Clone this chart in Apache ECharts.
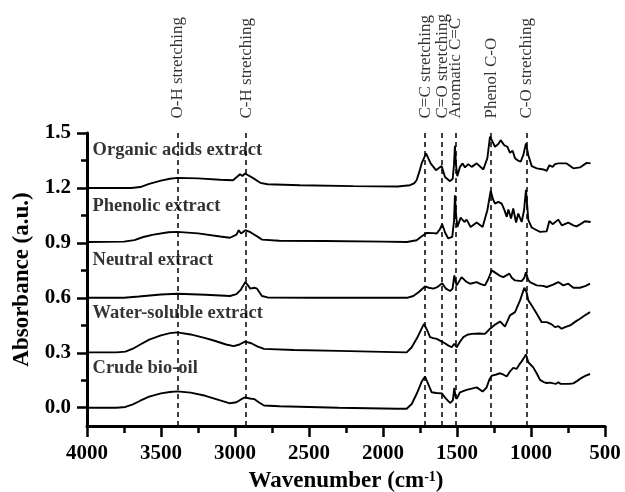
<!DOCTYPE html>
<html><head><meta charset="utf-8">
<script src="https://cdn.jsdelivr.net/npm/echarts@6/dist/echarts.min.js"></script>
<style>html,body{margin:0;padding:0;background:#fff}#c{width:625px;height:492px}</style>
</head><body><div id="c"></div>
<script>
// ---- data ----
const seriesNames = ['Organic acids extract', 'Phenolic extract', 'Neutral extract', 'Water-soluble extract', 'Crude bio-oil'];

const organicWn = [4000,3700,3640,3580,3500,3440,3390,3250,3100,3013,2966,2950,2932,2880,2829,2780,2561,2200,1900,1818,1790,1773,1750,1739,1709,1678,1642,1620,1604,1581,1547,1529,1520,1514,1506,1498,1480,1462,1446,1424,1401,1367,1322,1295,1277,1265,1243,1221,1205,1182,1160,1142,1124,1108,1093,1070,1052,1034,1018,995,961,916,894,876,854,838,816,759,714,669,624,597];
const organicAbs = [1.2,1.2,1.205,1.222,1.24,1.25,1.255,1.252,1.245,1.242,1.275,1.265,1.279,1.255,1.228,1.22,1.215,1.21,1.208,1.215,1.225,1.242,1.3,1.334,1.389,1.334,1.297,1.31,1.319,1.26,1.237,1.25,1.33,1.43,1.32,1.264,1.315,1.334,1.312,1.33,1.315,1.334,1.301,1.362,1.48,1.461,1.425,1.44,1.461,1.434,1.425,1.392,1.403,1.362,1.352,1.343,1.379,1.443,1.379,1.319,1.307,1.301,1.293,1.324,1.315,1.33,1.334,1.334,1.307,1.312,1.337,1.334];

const phenolicWn = [4000,3750,3680,3620,3550,3450,3390,3250,3100,3034,2990,2975,2959,2930,2900,2874,2840,2818,2700,2400,2000,1838,1773,1740,1705,1660,1637,1615,1600,1580,1559,1532,1520,1514,1506,1498,1475,1450,1435,1408,1367,1327,1295,1272,1258,1243,1221,1198,1180,1164,1153,1135,1120,1101,1086,1063,1047,1034,1018,995,961,939,894,876,854,816,792,748,714,692,660,636,597];
const phenolicAbs = [0.905,0.907,0.915,0.932,0.945,0.958,0.96,0.952,0.935,0.928,0.945,0.969,0.951,0.969,0.96,0.947,0.93,0.918,0.912,0.91,0.907,0.905,0.914,0.935,0.954,0.953,0.951,0.975,1.002,0.955,0.924,0.933,1.02,1.16,1.05,0.987,1.038,1.014,1.027,0.987,1.011,0.987,1.078,1.185,1.14,1.114,1.124,1.114,1.08,1.042,1.082,1.033,1.088,1.011,1.06,1.014,1.078,1.19,1.024,0.984,0.969,0.96,0.963,1.02,1.002,1.027,0.996,1.011,0.996,0.99,1.005,1.018,1.014];

const neutralWn = [4000,3750,3650,3500,3390,3200,3034,2990,2960,2930,2910,2897,2870,2851,2818,2780,2500,2000,1838,1795,1760,1716,1690,1660,1630,1600,1575,1547,1530,1518,1510,1502,1469,1440,1412,1367,1340,1311,1290,1265,1232,1210,1187,1146,1130,1108,1063,1045,1034,1020,1007,961,920,894,850,816,782,748,714,669,630,601];
const neutralAbs = [0.6,0.6,0.607,0.618,0.622,0.617,0.61,0.62,0.645,0.686,0.665,0.65,0.655,0.65,0.61,0.602,0.6,0.6,0.6,0.61,0.63,0.662,0.655,0.65,0.66,0.68,0.65,0.637,0.65,0.722,0.69,0.668,0.713,0.69,0.677,0.686,0.675,0.668,0.7,0.75,0.732,0.72,0.713,0.732,0.71,0.695,0.691,0.71,0.74,0.7,0.686,0.668,0.665,0.659,0.672,0.686,0.668,0.677,0.655,0.655,0.665,0.677];

const waterWn = [4000,3800,3740,3690,3640,3580,3500,3440,3390,3300,3200,3144,3060,3009,2970,2932,2890,2850,2804,2600,2300,2000,1840,1806,1770,1740,1723,1700,1682,1660,1637,1593,1560,1536,1518,1502,1480,1457,1430,1401,1350,1311,1277,1240,1209,1176,1142,1108,1074,1045,1030,1018,995,961,928,894,883,860,838,815,804,793,770,736,700,669,635,601];
const waterAbs = [0.302,0.302,0.306,0.322,0.345,0.372,0.395,0.407,0.411,0.4,0.38,0.367,0.345,0.336,0.345,0.361,0.352,0.335,0.321,0.315,0.31,0.305,0.302,0.33,0.38,0.43,0.458,0.42,0.385,0.38,0.376,0.357,0.34,0.33,0.349,0.33,0.36,0.385,0.398,0.403,0.405,0.403,0.431,0.455,0.471,0.443,0.504,0.522,0.586,0.655,0.63,0.586,0.558,0.513,0.467,0.467,0.476,0.455,0.44,0.445,0.449,0.431,0.44,0.449,0.47,0.486,0.505,0.522];

const crudeWn = [4000,3800,3740,3690,3640,3580,3500,3440,3390,3300,3200,3100,3034,2990,2960,2932,2900,2870,2840,2804,2700,2500,2300,2100,1900,1840,1806,1770,1740,1716,1695,1671,1640,1603,1575,1547,1528,1518,1510,1502,1480,1435,1367,1327,1300,1282,1265,1240,1209,1185,1164,1140,1120,1097,1080,1063,1045,1034,1018,985,960,939,915,894,870,849,830,816,800,770,740,714,690,658,630,601];
const crudeAbs = [0.0,0.0,0.004,0.018,0.038,0.06,0.078,0.086,0.089,0.082,0.065,0.04,0.024,0.03,0.045,0.056,0.05,0.047,0.03,0.012,0.008,0.004,0.0,-0.003,-0.006,-0.006,0.02,0.08,0.14,0.17,0.13,0.084,0.08,0.078,0.05,0.026,0.04,0.108,0.06,0.048,0.084,0.097,0.111,0.088,0.11,0.152,0.175,0.18,0.188,0.18,0.17,0.2,0.217,0.212,0.235,0.253,0.275,0.29,0.248,0.22,0.185,0.152,0.14,0.135,0.137,0.133,0.13,0.139,0.13,0.13,0.131,0.133,0.145,0.163,0.175,0.184];

const bandWn = [3390, 2925, 1715, 1600, 1510, 1270, 1030];
const bandNames = ['O-H stretching', 'C-H stretching', 'C=C stretching', 'C=O stretching', 'Aromatic C=C', 'Phenol C-O', 'C-O stretching'];

const xTickLabels = [4000, 3500, 3000, 2500, 2000, 1500, 1000, 500];
const yTickLabels = [0.0, 0.3, 0.6, 0.9, 1.2, 1.5];
const yMinorTicks = [0.15, 0.45, 0.75, 1.05, 1.35];

// label anchors (layout, in data coordinates)
const nameAnchorWn = 3966;
const nameAnchorAbs = [1.407, 1.100, 0.805, 0.514, 0.213];

// ---- build ----
const zip = (a, b) => a.map((v, i) => [v, b[i]]);
const spectra = [
  zip(organicWn, organicAbs),
  zip(phenolicWn, phenolicAbs),
  zip(neutralWn, neutralAbs),
  zip(waterWn, waterAbs),
  zip(crudeWn, crudeAbs)
];
const SERIF = '"Liberation Serif","Times New Roman",serif';

const lineSeries = spectra.map((d, i) => ({
  type: 'line', name: seriesNames[i], data: d, showSymbol: false, smooth: false,
  lineStyle: { color: '#000', width: 1.9 }, silent: true, z: 3,
  markLine: i === 4 ? {
    silent: true, symbol: 'none', animation: false,
    label: { show: false },
    lineStyle: { color: '#000', type: [5, 4], width: 1.5 },
    data: bandWn.map(w => ({ xAxis: w }))
  } : undefined
}));

const option = {
  animation: false,
  backgroundColor: '#fff',
  grid: { left: 87, right: 20, top: 133, bottom: 66, outerBoundsMode: 'none', containLabel: false },
  xAxis: {
    type: 'value', min: 500, max: 4000, interval: 500, inverse: true,
    axisLine: { onZero: false, lineStyle: { color: '#000', width: 3 } },
    axisTick: { length: 11, lineStyle: { color: '#000', width: 2.5 } },
    minorTick: { show: true, splitNumber: 2, length: 7, lineStyle: { color: '#000', width: 2.5 } },
    splitLine: { show: false },
    axisLabel: { color: '#000', fontFamily: SERIF, fontWeight: 'bold', fontSize: 21, margin: 17,
      showMinLabel: true, showMaxLabel: true,
      formatter: v => xTickLabels.includes(v) ? String(v) : '' },
    name: '{n|Wavenumber (cm}{s|-1}{n|)}', nameLocation: 'middle', nameGap: 44,
    nameTextStyle: {
      rich: {
        n: { fontFamily: SERIF, fontWeight: 'bold', fontSize: 23, color: '#000', lineHeight: 23 },
        s: { fontFamily: SERIF, fontWeight: 'bold', fontSize: 14, color: '#000', lineHeight: 14, verticalAlign: 'top' }
      }
    }
  },
  yAxis: [{
    type: 'value', min: -0.1, max: 1.5, position: 'left',
    axisLine: { show: true, onZero: false, lineStyle: { color: '#000', width: 3 } },
    axisTick: { show: true, length: 10, customValues: yTickLabels, lineStyle: { color: '#000', width: 2.5 } },
    splitLine: { show: false },
    axisLabel: { color: '#000', fontFamily: SERIF, fontWeight: 'bold', fontSize: 21, margin: 16,
      customValues: yTickLabels, formatter: v => Number(v).toFixed(1) },
    name: 'Absorbance (a.u.)', nameLocation: 'middle', nameGap: 49,
    nameTextStyle: { fontFamily: SERIF, fontWeight: 'bold', fontSize: 23, color: '#000' }
  }, {
    type: 'value', min: -0.1, max: 1.5, position: 'left', offset: 0,
    axisLine: { show: false },
    axisTick: { show: true, length: 6, customValues: yMinorTicks, lineStyle: { color: '#000', width: 2.5 } },
    axisLabel: { show: false },
    splitLine: { show: false }
  }],
  series: [
    ...lineSeries,
    {
      type: 'scatter', silent: true, clip: false, symbolSize: 1,
      itemStyle: { color: 'rgba(0,0,0,0)' },
      data: nameAnchorAbs.map((a, i) => ({ value: [nameAnchorWn, a], name: seriesNames[i] })),
      label: { show: true, position: 'right', distance: 0, formatter: p => p.name,
        fontFamily: SERIF, fontWeight: 'bold', fontSize: 18.5, color: '#000' }
    },
    {
      type: 'scatter', silent: true, clip: false, symbolSize: 1,
      itemStyle: { color: 'rgba(0,0,0,0)' },
      data: bandWn.map((w, i) => ({ value: [w, 1.5], name: bandNames[i] })),
      label: { show: true, position: 'top', distance: 14, rotate: 90, align: 'left', verticalAlign: 'middle',
        formatter: p => p.name, fontFamily: SERIF, fontSize: 17, color: '#000' }
    }
  ]
};
const chart = echarts.init(document.getElementById('c'), null, { renderer: 'canvas' });
chart.setOption(option);
</script></body></html>
